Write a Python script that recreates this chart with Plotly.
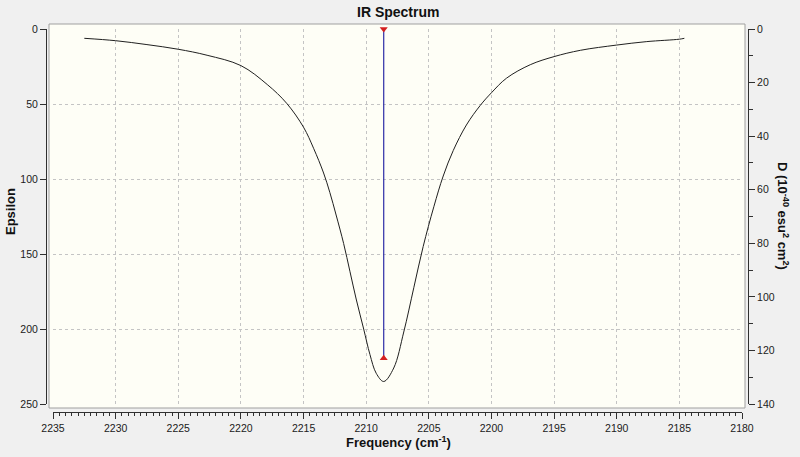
import plotly.graph_objects as go

# ---- data ----
freq = [2232.5, 2230.0, 2227.5, 2225.0, 2222.7, 2220.0, 2217.9, 2216.35, 2215.0,
        2214.2, 2213.4, 2212.9, 2212.4, 2211.8, 2211.3, 2210.8, 2210.2, 2209.7,
        2209.2, 2208.6, 2207.8, 2207.0, 2206.2, 2205.45, 2204.6, 2203.85, 2203.05,
        2202.0, 2200.9, 2200.0, 2198.8, 2196.9, 2195.0, 2192.9, 2190.0, 2187.6,
        2185.0, 2184.6]
epsilon = [6.2, 7.8, 10.4, 13.5, 17.5, 24.4, 37.0, 49.5, 65.5,
           79.5, 96.0, 109.0, 124.0, 143.0, 161.5, 180.0, 200.0, 217.0,
           229.5, 235.0, 226.0, 202.0, 172.5, 145.0, 118.5, 98.0, 81.0,
           64.0, 51.0, 42.5, 32.8, 23.8, 18.4, 14.2, 10.7, 8.4,
           6.8, 6.2]
stick_freq = [2208.6]
stick_D = [122.9]

x_ticks = [2235, 2230, 2225, 2220, 2215, 2210, 2205, 2200, 2195, 2190, 2185, 2180]
eps_ticks = [0, 50, 100, 150, 200, 250]
d_ticks = [0, 20, 40, 60, 80, 100, 120, 140]

# ---- layout geometry (pixels) ----
W, H = 800, 457
L, R, T, B = 46, 52, 29, 45
pw, ph = W - L - R, H - T - B


def px_x(p):
    return (p - L) / pw


def px_y(p):
    return (H - B - p) / ph


FONT = "Liberation Sans"
fig = go.Figure()

fig.add_trace(go.Scatter(
    x=freq, y=epsilon, mode="lines",
    line=dict(color="#202020", width=1, shape="spline", smoothing=1.0),
    xaxis="x", yaxis="y", showlegend=False, hoverinfo="x+y"))

for f, d in zip(stick_freq, stick_D):
    fig.add_trace(go.Scatter(
        x=[f, f], y=[0, d], mode="lines+markers",
        line=dict(color="#2c2ca6", width=1.2),
        marker=dict(symbol=["triangle-down", "triangle-up"], size=7, color="#d42020"),
        xaxis="x", yaxis="y2", showlegend=False, cliponaxis=False))

tickfont = dict(family=FONT, size=10.5, color="#202020")
grid = dict(showgrid=True, gridcolor="#c4c4c4", griddash="3px,3px", gridwidth=1)

fig.update_layout(
    width=W, height=H,
    margin=dict(l=L, r=R, t=T, b=B),
    paper_bgcolor="#f0f0f0", plot_bgcolor="#f0f0f0",
    xaxis=dict(domain=[px_x(53), px_x(742)], range=[2235, 2180], anchor="free", position=0,
               tickvals=x_ticks, ticks="outside", ticklen=6, tickcolor="#303030",
               showline=True, linecolor="#303030", linewidth=1, zeroline=False,
               tickfont=tickfont,
               minor=dict(dtick=0.5, ticks="outside", ticklen=3, tickcolor="#303030", showgrid=False),
               **grid),
    yaxis=dict(domain=[px_y(404), 1], range=[250, 0], anchor="free", position=0,
               tickvals=eps_ticks, ticks="outside", ticklen=6, tickcolor="#303030",
               showline=True, linecolor="#303030", linewidth=1, zeroline=False,
               tickfont=tickfont, **grid),
    yaxis2=dict(domain=[px_y(404), 1], range=[140, 0], anchor="free", position=1,
                overlaying="y", side="right",
                tickvals=d_ticks, ticks="outside", ticklen=6, tickcolor="#303030",
                showline=True, linecolor="#303030", linewidth=1, zeroline=False,
                showgrid=False, tickfont=tickfont,
                minor=dict(dtick=10, ticks="outside", ticklen=4, tickcolor="#303030")),
    shapes=[dict(type="rect", xref="paper", yref="paper",
                 x0=px_x(49), x1=px_x(745), y0=px_y(408), y1=px_y(24),
                 fillcolor="#fefef6", line=dict(color="#a0a0a0", width=1), layer="below")],
    annotations=[
        dict(text="<b>IR Spectrum</b>", x=px_x(398), y=px_y(12), xref="paper", yref="paper",
             xanchor="center", yanchor="middle",
             showarrow=False, font=dict(family=FONT, size=14, color="#111")),
        dict(text="<b>Frequency (cm<sup>-1</sup>)</b>", x=px_x(399), y=px_y(442), xref="paper",
             yref="paper", xanchor="center", yanchor="middle",
             showarrow=False, font=dict(family=FONT, size=13, color="#111")),
        dict(text="<b>Epsilon</b>", x=px_x(11), y=px_y(212), xref="paper", yref="paper",
             xanchor="center", yanchor="middle",
             showarrow=False, textangle=-90, font=dict(family=FONT, size=13, color="#111")),
        dict(text="<b>D (10<sup>-40</sup> esu<sup>2</sup> cm<sup>2</sup>)</b>", x=px_x(783),
             y=px_y(216), xref="paper", yref="paper", xanchor="center", yanchor="middle",
             showarrow=False, textangle=90,
             font=dict(family=FONT, size=13, color="#111")),
    ],
)

fig.write_html("out.html")
